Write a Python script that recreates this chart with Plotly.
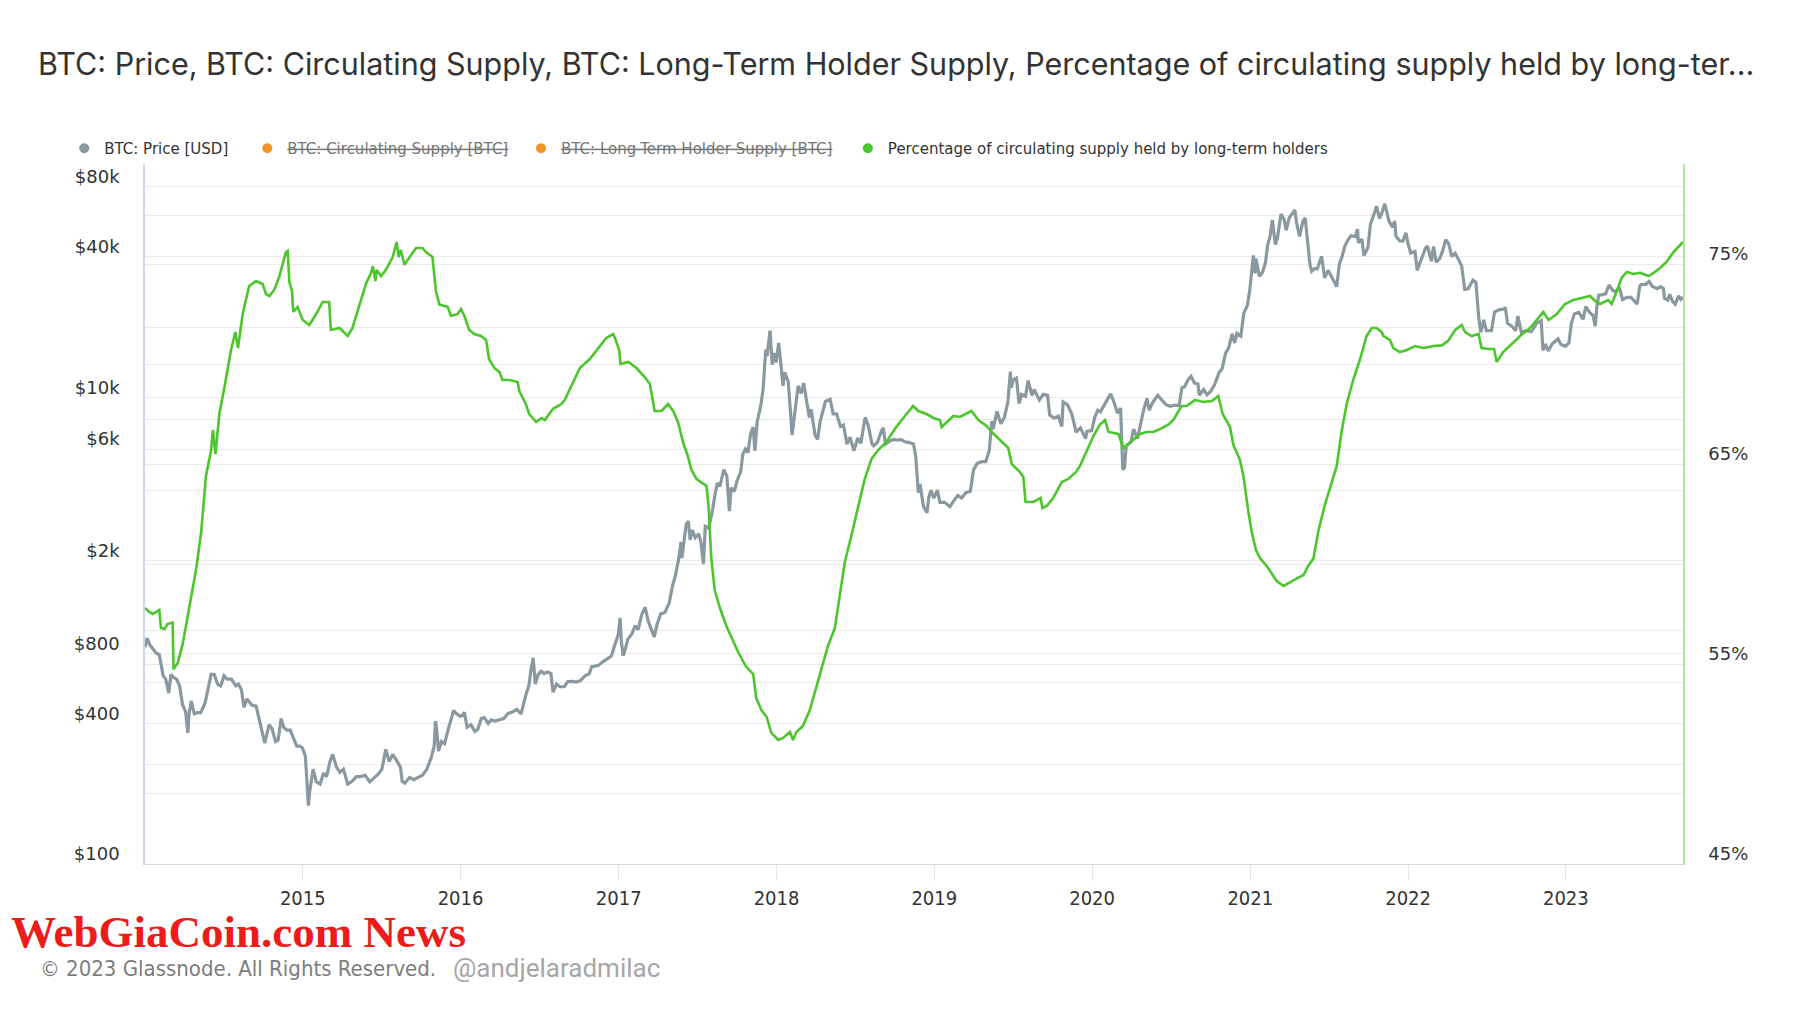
import plotly.graph_objects as go

# ---------------- DATA ----------------
def _yr(year, mmdd):
    return [f"{year}-{d}" for d in mmdd]

price_dates = (
    _yr(2014, ["01-01","01-06","01-12","01-20","01-27","02-03","02-08","02-12","02-18","02-25",
               "03-02","03-08","03-15","03-22","03-29","04-05","04-10","04-13","04-18","04-25",
               "05-01","05-10","05-20","05-28","06-03","06-10","06-18","06-25","07-03","07-10",
               "07-20","07-30","08-05","08-12","08-18","08-25","09-05","09-15","09-22","09-28",
               "10-05","10-10","10-15","10-22","10-30","11-05","11-12","11-18","11-25","12-03",
               "12-10","12-18","12-25","12-31"])
    + _yr(2015, ["01-07","01-14","01-17","01-25","02-01","02-10","02-18","02-25","03-05","03-11",
                 "03-20","03-28","04-05","04-15","04-25","05-05","05-15","05-25","06-05","06-15",
                 "06-25","07-03","07-12","07-20","07-28","08-05","08-15","08-19","08-25","09-05",
                 "09-15","09-25","10-05","10-15","10-25","11-01","11-04","11-07","11-11","11-18",
                 "11-25","12-03","12-10","12-16","12-23","12-31"])
    + _yr(2016, ["01-05","01-10","01-16","01-25","02-03","02-10","02-18","02-25","03-05","03-12",
                 "03-20","03-31","04-10","04-20","04-30","05-10","05-20","05-31","06-07","06-12",
                 "06-17","06-22","06-28","07-05","07-12","07-20","07-28","08-02","08-10","08-18",
                 "08-28","09-05","09-15","09-25","10-05","10-15","10-25","10-30","11-05","11-15",
                 "11-25","12-05","12-15","12-22","12-31"])
    + _yr(2017, ["01-04","01-07","01-11","01-15","01-22","01-31","02-08","02-15","02-23","03-03",
                 "03-10","03-18","03-24","03-31","04-08","04-18","04-28","05-05","05-12","05-20",
                 "05-25","05-27","06-01","06-06","06-11","06-15","06-20","06-27","07-05","07-10",
                 "07-16","07-20","07-28","08-05","08-12","08-17","08-23","09-01","09-08","09-14",
                 "09-18","09-25","10-02","10-10","10-15","10-21","10-27","11-02","11-08","11-12",
                 "11-17","11-26","12-01","12-07","12-10","12-17","12-22","12-27","12-31"])
    + _yr(2018, ["01-06","01-10","01-16","01-20","01-28","02-02","02-06","02-12","02-20","02-27",
                 "03-05","03-12","03-18","03-22","03-31","04-06","04-12","04-24","05-05","05-12",
                 "05-20","05-29","06-05","06-13","06-20","06-29","07-08","07-15","07-25","08-01",
                 "08-10","08-14","08-22","09-01","09-05","09-10","09-20","09-30","10-10","10-15",
                 "10-25","11-05","11-14","11-19","11-25","11-29","12-07","12-15","12-19","12-24",
                 "12-31"])
    + _yr(2019, ["01-08","01-14","01-25","02-06","02-15","02-24","03-05","03-15","03-25","04-02",
                 "04-10","04-20","04-30","05-08","05-14","05-17","05-26","06-04","06-12","06-20",
                 "06-26","06-28","07-03","07-10","07-16","07-22","07-31","08-06","08-15","08-20",
                 "09-01","09-10","09-20","09-25","10-05","10-15","10-23","10-26","11-05","11-15",
                 "11-25","12-05","12-17","12-20","12-31"])
    + _yr(2020, ["01-07","01-14","01-20","01-31","02-09","02-13","02-20","02-29","03-07","03-12",
                 "03-16","03-20","03-31","04-06","04-15","04-29","05-07","05-12","05-20","06-01",
                 "06-10","06-20","06-30","07-10","07-20","07-27","08-02","08-10","08-17","08-25",
                 "09-02","09-05","09-15","09-23","10-01","10-10","10-21","10-28","11-05","11-12",
                 "11-20","11-26","12-01","12-10","12-17","12-25","12-31"])
    + _yr(2021, ["01-03","01-08","01-12","01-14","01-22","01-29","02-05","02-10","02-16","02-21",
                 "02-28","03-05","03-13","03-20","03-25","04-01","04-14","04-18","04-25","05-03",
                 "05-08","05-12","05-19","05-23","05-30","06-05","06-15","06-22","06-30","07-08",
                 "07-20","07-26","08-01","08-08","08-14","08-22","09-01","09-06","09-08","09-16",
                 "09-21","09-30","10-06","10-15","10-20","10-27","11-01","11-08","11-10","11-18",
                 "11-26","12-01","12-04","12-13","12-20","12-27","12-31"])
    + _yr(2022, ["01-07","01-10","01-17","01-22","01-31","02-10","02-15","02-24","03-01","03-07",
                 "03-15","03-22","03-29","04-05","04-12","04-20","04-27","05-05","05-12","05-20",
                 "05-31","06-07","06-13","06-18","06-25","07-01","07-13","07-20","07-30","08-10",
                 "08-14","08-19","08-31","09-07","09-12","09-20","10-01","10-13","10-26","11-05",
                 "11-09","11-15","11-21","12-01","12-14","12-20","12-31"])
    + _yr(2023, ["01-08","01-14","01-21","01-31","02-10","02-16","02-25","03-05","03-10","03-14",
                 "03-18","03-25","04-03","04-11","04-19","04-25","05-05","05-12","05-22","06-01",
                 "06-10","06-15","06-21","06-25","07-05","07-13","07-20","07-31","08-08","08-15",
                 "08-17","08-25","08-29","09-05","09-11","09-19","09-24","09-29"])
)

price_usd = [
    # 2014
    850, 930, 870, 830, 800, 790, 700, 640, 620, 540,
    650, 630, 620, 580, 480, 450, 365, 440, 500, 440,
    445, 445, 490, 590, 650, 650, 590, 580, 640, 620,
    620, 580, 590, 560, 470, 510, 480, 475, 410, 375,
    330, 360, 395, 380, 335, 340, 420, 385, 375, 375,
    350, 320, 320, 315,
    # 2015
    290, 178, 205, 255, 225, 220, 245, 237, 275, 295,
    260, 247, 255, 220, 226, 237, 237, 240, 225, 235,
    243, 255, 310, 275, 295, 280, 260, 226, 222, 235,
    230, 235, 240, 255, 285, 320, 410, 375, 305, 335,
    328, 375, 415, 455, 440, 430,
    # 2016
    432, 447, 385, 395, 370, 378, 420, 424, 400, 415,
    410, 415, 420, 442, 448, 460, 440, 530, 580, 680,
    765, 590, 645, 670, 655, 665, 655, 545, 590, 575,
    575, 605, 606, 602, 612, 640, 655, 700, 705, 710,
    735, 760, 778, 860, 965,
    # 2017
    1135, 900, 780, 820, 920, 965, 1050, 1010, 1170, 1260,
    1100, 1000, 940, 1070, 1180, 1200, 1320, 1550, 1720, 2050,
    2400, 2050, 2400, 2850, 2950, 2450, 2700, 2500, 2600, 2400,
    1930, 2800, 2750, 3220, 3850, 4300, 4150, 4900, 4600, 3250,
    4100, 3950, 4400, 4800, 5700, 6000, 5800, 7000, 7450, 5900,
    7800, 9300, 10900, 16000, 15000, 19300, 13800, 15500, 14100,
    # 2018
    17100, 14500, 11200, 12800, 11700, 8800, 6900, 8500, 11200, 10400,
    11500, 9500, 8200, 8900, 6900, 6600, 7900, 9600, 9800, 8500,
    8500, 7500, 7600, 6300, 6750, 5900, 6700, 6350, 8200, 7600,
    6300, 6200, 6400, 7200, 7400, 6300, 6500, 6600, 6550, 6600,
    6450, 6400, 6300, 5600, 3900, 4250, 3400, 3200, 3700, 4000,
    3700,
    # 2019
    4000, 3550, 3550, 3400, 3600, 3800, 3700, 3900, 3950, 4900,
    5200, 5300, 5300, 5900, 7900, 7300, 8700, 7700, 8200, 9500,
    12900, 11000, 11900, 12100, 9400, 10300, 10100, 11800, 10200, 10800,
    9750, 10300, 10200, 8400, 8150, 8300, 7500, 9550, 9300, 8500,
    7100, 7400, 6650, 7150, 7200,
    # 2020
    8200, 8800, 8650, 9400, 10100, 10350, 9600, 8550, 9000, 4900,
    5000, 6200, 6450, 7300, 6650, 8800, 9900, 8800, 9500, 10200,
    9750, 9300, 9150, 9250, 9200, 11000, 11100, 11900, 12300, 11500,
    11400, 10200, 10800, 10250, 10600, 11300, 12800, 13300, 15500, 16300,
    18700, 17100, 18800, 18300, 23000, 24700, 29000,
    # 2021
    32800, 40600, 34000, 39300, 33000, 34300, 37700, 44800, 49200, 57500,
    45200, 48500, 61000, 58000, 52000, 58800, 63500, 56000, 49000, 57000,
    58800, 49500, 37000, 34700, 35700, 35500, 40200, 32500, 35000, 32900,
    29800, 37300, 39900, 44600, 47000, 49300, 48800, 52600, 46000, 47700,
    40500, 43800, 55300, 61600, 66000, 58500, 61300, 67500, 65000, 56800,
    53600, 57000, 49000, 46800, 46700, 50700, 46300,
    # 2022
    41600, 41800, 42200, 35000, 38500, 43500, 44500, 38300, 44300, 38000,
    39300, 42400, 47400, 45500, 40100, 41500, 39200, 36500, 29000, 29200,
    31800, 31100, 22400, 19000, 21500, 19300, 19300, 23200, 23700, 23900,
    24300, 20800, 20000, 19300, 22300, 19000, 19300, 19100, 20800, 21300,
    15900, 16900, 15800, 17000, 17800, 16900, 16550,
    # 2023
    17100, 20900, 22800, 23100, 21600, 24500, 23100, 22400, 20200, 24700,
    27400, 27500, 27800, 30300, 28800, 28300, 29500, 26200, 26800, 26800,
    25850, 25100, 30000, 30500, 30500, 31400, 29900, 29200, 29800, 29200,
    26600, 26100, 27700, 25800, 25100, 27200, 26300, 26900,
]

lth_dates = (
    _yr(2014, ["01-01","01-11","01-19","02-03","02-07","02-15","02-22","03-06","03-08","03-18",
               "03-29","04-14","04-29","05-11","05-22","06-03","06-07","06-13","06-22","07-06",
               "07-19","07-29","08-04","08-15","08-30","09-15","09-30","10-08","10-16","10-28",
               "11-08","11-23","11-27","12-01","12-07","12-10","12-20"])
    + _yr(2015, ["01-01","01-16","02-01","02-16","03-03","03-07","03-27","04-15","04-26","05-12",
                 "05-27","06-08","06-12","06-18","06-21","07-01","07-12","07-28","08-06","08-11",
                 "08-16","08-24","09-04","09-20","10-05","10-13","10-28","11-05","11-13","12-02",
                 "12-10","12-25"])
    + _yr(2016, ["01-02","01-10","01-21","02-02","02-17","02-29","03-07","03-19","03-31","04-07",
                 "04-23","05-12","05-16","05-31","06-08","06-19","06-24","07-06","07-14","08-02",
                 "08-21","08-29","09-17","10-03","10-26","11-14","12-03","12-19","12-25"])
    + _yr(2017, ["01-02","01-05","01-23","02-11","03-02","03-14","03-25","04-10","04-25","05-07",
                 "05-18","05-30","06-10","06-18","06-30","07-15","07-23","07-28","08-03","08-11",
                 "08-23","09-07","09-22","10-04","10-23","11-08","11-15","11-27","12-09","12-20"])
    + _yr(2018, ["01-05","01-16","02-01","02-08","02-16","03-03","03-19","04-11","04-30","05-16",
                 "05-23","06-08","06-23","07-09","07-24","08-09","08-24","09-12","10-05","10-25",
                 "11-13","11-25","12-14","12-30"])
    + _yr(2019, ["01-14","01-18","02-14","03-01","03-28","04-13","05-02","05-14","06-02","06-21",
                 "06-29","07-18","07-26","07-31","08-18","09-04","09-08","09-18","10-03","10-23",
                 "11-07","11-25","12-04","12-19"])
    + _yr(2020, ["01-04","01-19","01-31","02-08","03-02","03-09","03-13","03-29","04-21","05-06",
                 "05-22","06-06","06-25","07-07","07-26","08-07","08-26","09-14","10-04","10-19",
                 "10-29","11-15","11-23","12-08","12-16","12-28"])
    + _yr(2021, ["01-04","01-14","01-24","02-08","02-20","03-03","03-19","04-03","04-18","05-04",
                 "05-15","05-27","06-07","06-23","07-08","07-20","07-31","08-12","08-27","09-12",
                 "09-27","10-09","10-20","11-01","11-05","11-20","11-28","12-13","12-29"])
    + _yr(2022, ["01-17","02-05","03-01","03-20","04-04","04-20","05-05","05-13","05-28","06-13",
                 "06-20","07-06","07-19","07-25","08-09","08-29","09-17","10-10","10-26","11-10",
                 "11-22","12-11","12-30"])
    + _yr(2023, ["01-18","02-07","02-26","03-10","03-21","04-09","04-17","04-29","05-10","05-22",
                 "06-06","06-22","07-11","07-23","08-07","08-22","09-07","09-29"])
)

lth_pct = [
    # 2014
    57.8, 57.6, 57.5, 57.7, 56.8, 56.75, 57.0, 57.07, 54.73, 55.07,
    55.98, 57.9, 59.7, 61.6, 64.4, 65.7, 66.7, 65.5, 67.5, 69.1,
    70.7, 71.6, 70.8, 72.5, 73.9, 74.15, 74.0, 73.5, 73.4, 73.75,
    74.4, 75.6, 75.65, 74.1, 73.65, 72.6, 72.85,
    # 2015
    72.2, 71.95, 72.5, 73.1, 73.1, 71.7, 71.8, 71.4, 71.8, 72.97,
    74.0, 74.56, 74.9, 74.15, 74.7, 74.4, 74.7, 75.35, 76.1, 75.35,
    75.7, 74.96, 75.28, 75.8, 75.8, 75.6, 75.35, 73.65, 72.97, 72.86,
    72.4, 72.5,
    # 2016
    72.75, 72.4, 71.7, 71.5, 71.4, 71.2, 70.25, 69.8, 69.6, 69.2,
    69.2, 69.1, 68.65, 68.0, 67.5, 67.2, 67.1, 67.3, 67.2, 67.76,
    68.0, 68.2, 69.1, 69.8, 70.25, 70.8, 71.3, 71.5, 71.2,
    # 2017
    70.7, 70.0, 70.1, 69.8, 69.35, 69.0, 67.65, 67.65, 68.0, 67.65,
    67.1, 66.06, 65.38, 64.7, 64.25, 64.0, 63.9, 62.8, 60.3, 58.7,
    57.8, 56.9, 56.2, 55.6, 54.85, 54.5, 53.3, 52.7, 52.35, 51.56,
    # 2018
    51.2, 51.3, 51.6, 51.2, 51.6, 51.9, 52.7, 54.4, 55.9, 56.8,
    57.8, 60.1, 61.4, 62.9, 64.25, 65.27, 65.7, 66.1, 66.85, 67.4,
    67.9, 67.65, 67.5, 67.3,
    # 2019
    67.2, 66.85, 67.4, 67.35, 67.65, 67.2, 66.9, 66.6, 66.2, 65.8,
    65.0, 64.6, 64.35, 63.1, 63.1, 63.3, 62.8, 62.9, 63.3, 64.1,
    64.25, 64.6, 64.9, 65.6,
    # 2020
    66.4, 66.97, 67.2, 66.6, 66.5, 66.06, 65.8, 66.06, 66.5, 66.6,
    66.6, 66.74, 66.97, 67.2, 67.9, 67.9, 68.2, 68.1, 68.15, 68.4,
    67.5, 66.85, 65.95, 65.2, 64.4, 62.55,
    # 2021
    61.64, 60.7, 60.28, 59.9, 59.5, 59.15, 58.9, 59.1, 59.27, 59.45,
    59.9, 60.28, 61.6, 63.0, 64.1, 64.9, 66.6, 68.0, 69.2, 70.25,
    71.4, 71.8, 71.8, 71.6, 71.4, 71.2, 70.8, 70.6, 70.7,
    # 2022
    70.9, 70.8, 70.9, 70.93, 71.16, 71.7, 71.95, 71.6, 71.4, 71.5,
    70.8, 70.75, 70.75, 70.1, 70.6, 71.0, 71.4, 71.8, 72.2, 72.6,
    72.2, 72.5, 73.0,
    # 2023
    73.2, 73.3, 73.4, 73.15, 73.0, 73.2, 73.0, 73.65, 74.3, 74.6,
    74.5, 74.56, 74.4, 74.56, 74.8, 75.1, 75.6, 76.1,
]

# axis ticks
year_ticks = [f"{y}-01-01" for y in range(2015, 2024)]
year_labels = [str(y) for y in range(2015, 2024)]
price_tick_vals = [100, 400, 800, 2000, 6000, 10000, 40000, 80000]
price_tick_text = ["$100", "$400", "$800", "$2k", "$6k", "$10k", "$40k", "$80k"]
price_minor_vals = [200, 600, 1000, 4000, 8000, 20000, 60000, 100000]
pct_tick_vals = [45, 55, 65, 75]
pct_tick_text = ["45%", "55%", "65%", "75%"]
pct_minor_vals = [50, 60, 70, 80]

legend_names = [
    "BTC: Price [USD]",
    "<s>BTC: Circulating Supply [BTC]</s>",
    "<s>BTC: Long-Term Holder Supply [BTC]</s>",
    "Percentage of circulating supply held by long-term holders",
]

# ---------------- STYLE ----------------
PRICE_COLOR = "#8a989f"
GREEN = "#4bc62c"
ORANGE = "#f39322"
GRID = "#ebebeb"
TEXT = "#333333"

# page body has an 8px margin: figure is 1792x1005 so it fills the 1800x1013 window
W, H = 1792, 1005

fig = go.Figure()
fig.add_trace(go.Scatter(
    x=price_dates, y=price_usd, mode="lines", name=legend_names[0],
    line=dict(color=PRICE_COLOR, width=3.2), yaxis="y", showlegend=False,
))
fig.add_trace(go.Scatter(
    x=lth_dates, y=lth_pct, mode="lines", name=legend_names[3],
    line=dict(color=GREEN, width=2.6), yaxis="y2", showlegend=False,
))

legend_colors = [PRICE_COLOR, ORANGE, ORANGE, GREEN]
legend_ids = ["legend", "legend2", "legend3", "legend4"]
for name, col, lid in zip(legend_names, legend_colors, legend_ids):
    fig.add_trace(go.Scatter(
        x=[None], y=[None], mode="markers", name=name,
        marker=dict(color=col, size=10), legend=lid, showlegend=True,
    ))

leg_common = dict(orientation="h", yanchor="middle", xanchor="left", y=1.0222,
                  bgcolor="rgba(0,0,0,0)", borderwidth=0)
leg_font = dict(family="DejaVu Sans", size=15, color=TEXT)
leg_font_off = dict(family="DejaVu Sans", size=15, color="#777777")

fig.update_layout(
    width=W, height=H,
    paper_bgcolor="white", plot_bgcolor="white",
    margin=dict(l=137, r=117, t=156, b=149),
    title=dict(
        text="BTC: Price, BTC: Circulating Supply, BTC: Long-Term Holder Supply, "
             "Percentage of circulating supply held by long-ter...",
        x=30 / W, xref="container", xanchor="left",
        y=1 - 56 / H, yref="container", yanchor="middle",
        font=dict(family="Inter", size=30.5, color=TEXT),
    ),
    legend=dict(x=-0.0525, font=leg_font, **leg_common),
    legend2=dict(x=0.0665, font=leg_font_off, **leg_common),
    legend3=dict(x=0.2445, font=leg_font_off, **leg_common),
    legend4=dict(x=0.4570, font=leg_font, **leg_common),
    xaxis=dict(
        type="date", range=["2014-01-01", "2023-09-29"],
        tickvals=year_ticks, ticktext=year_labels,
        showgrid=False, zeroline=False,
        showline=True, linecolor="#d9d9d9", linewidth=1,
        ticks="outside", ticklen=16, tickcolor="#e6e6e6", tickwidth=1,
        tickfont=dict(family="DejaVu Sans Condensed, DejaVu Sans", size=20, color=TEXT),
    ),
    yaxis=dict(
        type="log", range=[2, 5],
        tickvals=price_tick_vals, ticktext=price_tick_text,
        showgrid=True, gridcolor=GRID, gridwidth=1, zeroline=False,
        minor=dict(tickvals=price_minor_vals, showgrid=True, gridcolor=GRID, gridwidth=1, ticks=""),
        showline=True, linecolor="#ccd6eb", linewidth=1.5,
        ticks="outside", ticklen=20, tickcolor="rgba(0,0,0,0)",
        ticklabelshift=-10,
        tickfont=dict(family="DejaVu Sans", size=18, color=TEXT),
    ),
    yaxis2=dict(
        overlaying="y", side="right", range=[45, 80],
        tickvals=pct_tick_vals, ticktext=pct_tick_text,
        showgrid=True, gridcolor=GRID, gridwidth=1, zeroline=False,
        minor=dict(tickvals=pct_minor_vals, showgrid=True, gridcolor=GRID, gridwidth=1, ticks=""),
        showline=True, linecolor="rgba(75,198,44,0.45)", linewidth=1.5,
        ticks="outside", ticklen=20, tickcolor="rgba(0,0,0,0)",
        ticklabelshift=-10,
        tickfont=dict(family="DejaVu Sans", size=18, color=TEXT),
    ),
    showlegend=True,
)

fig.add_annotation(
    text="<b>WebGiaCoin.com News</b>", xref="paper", yref="paper",
    x=-0.0884, y=-0.0965, xanchor="left", yanchor="middle", showarrow=False,
    font=dict(family="Liberation Serif", size=45, color="#ee1b1b"),
)
fig.add_annotation(
    text="© 2023 Glassnode. All Rights Reserved.", xref="paper", yref="paper",
    x=-0.0696, y=-0.1487, xanchor="left", yanchor="middle", showarrow=False,
    font=dict(family="DejaVu Sans Condensed, DejaVu Sans", size=22, color="#7d7d7d"),
)
fig.add_annotation(
    text="@andjelaradmilac", xref="paper", yref="paper",
    x=0.199, y=-0.1487, xanchor="left", yanchor="middle", showarrow=False,
    font=dict(family="Roboto", size=26, color="#a6a6a6"),
)

fig.write_html("out.html")
